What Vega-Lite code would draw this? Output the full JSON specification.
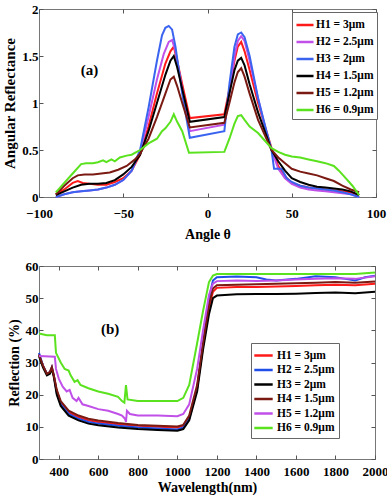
{
"$schema": "https://vega.github.io/schema/vega-lite/v6.json",
"background": "white",
"padding": {"left": 2, "top": 2, "right": 8, "bottom": 0},
"spacing": 17,
"config": {
  "font": "Liberation Serif",
  "view": {"stroke": "#777", "strokeWidth": 1},
  "axis": {"grid": false, "domain": false, "labelFont": "Liberation Serif", "labelFontWeight": "bold", "labelFontSize": 13, "labelColor": "black", "labelOverlap": false, "labelFlush": false, "titleFont": "Liberation Serif", "titleFontWeight": "bold", "titleFontSize": 14, "titleColor": "black", "tickColor": "#555", "tickSize": -4, "labelPadding": 5},
  "legend": {"orient": "none", "title": null, "symbolStrokeWidth": 2.5, "labelFont": "Liberation Serif", "labelFontWeight": "bold", "labelColor": "black", "strokeColor": "#666", "fillColor": "white", "padding": 3}
},
"resolve": {"scale": {"color": "independent"}, "legend": {"color": "independent"}},
"datasets": {
 "top": [
  {"s":"H1 = 3μm","a":-90,"r":0.03},{"s":"H1 = 3μm","a":-85,"r":0.08},{"s":"H1 = 3μm","a":-80,"r":0.15},{"s":"H1 = 3μm","a":-77,"r":0.17},{"s":"H1 = 3μm","a":-74,"r":0.15},{"s":"H1 = 3μm","a":-70,"r":0.14},{"s":"H1 = 3μm","a":-65,"r":0.13},{"s":"H1 = 3μm","a":-60,"r":0.13},{"s":"H1 = 3μm","a":-55,"r":0.16},{"s":"H1 = 3μm","a":-50,"r":0.2},{"s":"H1 = 3μm","a":-45,"r":0.28},{"s":"H1 = 3μm","a":-40,"r":0.45},{"s":"H1 = 3μm","a":-35,"r":0.75},{"s":"H1 = 3μm","a":-30,"r":1.1},{"s":"H1 = 3μm","a":-25,"r":1.42},{"s":"H1 = 3μm","a":-22,"r":1.55},{"s":"H1 = 3μm","a":-20,"r":1.6},{"s":"H1 = 3μm","a":-18,"r":1.45},{"s":"H1 = 3μm","a":-15,"r":1.2},{"s":"H1 = 3μm","a":-10.5,"r":0.84},{"s":"H1 = 3μm","a":10,"r":0.88},{"s":"H1 = 3μm","a":13,"r":1.15},{"s":"H1 = 3μm","a":16,"r":1.45},{"s":"H1 = 3μm","a":18,"r":1.6},{"s":"H1 = 3μm","a":20,"r":1.65},{"s":"H1 = 3μm","a":22,"r":1.55},{"s":"H1 = 3μm","a":25,"r":1.35},{"s":"H1 = 3μm","a":30,"r":1.0},{"s":"H1 = 3μm","a":35,"r":0.7},{"s":"H1 = 3μm","a":38,"r":0.52},{"s":"H1 = 3μm","a":42,"r":0.33},{"s":"H1 = 3μm","a":46,"r":0.22},{"s":"H1 = 3μm","a":50,"r":0.15},{"s":"H1 = 3μm","a":55,"r":0.12},{"s":"H1 = 3μm","a":60,"r":0.1},{"s":"H1 = 3μm","a":65,"r":0.09},{"s":"H1 = 3μm","a":70,"r":0.08},{"s":"H1 = 3μm","a":75,"r":0.07},{"s":"H1 = 3μm","a":80,"r":0.06},{"s":"H1 = 3μm","a":85,"r":0.05},{"s":"H1 = 3μm","a":90,"r":0.02},
  {"s":"H2 = 2.5μm","a":-90,"r":0.0},{"s":"H2 = 2.5μm","a":-85,"r":0.03},{"s":"H2 = 2.5μm","a":-80,"r":0.05},{"s":"H2 = 2.5μm","a":-75,"r":0.06},{"s":"H2 = 2.5μm","a":-70,"r":0.07},{"s":"H2 = 2.5μm","a":-65,"r":0.08},{"s":"H2 = 2.5μm","a":-60,"r":0.1},{"s":"H2 = 2.5μm","a":-55,"r":0.13},{"s":"H2 = 2.5μm","a":-50,"r":0.18},{"s":"H2 = 2.5μm","a":-45,"r":0.28},{"s":"H2 = 2.5μm","a":-40,"r":0.48},{"s":"H2 = 2.5μm","a":-35,"r":0.85},{"s":"H2 = 2.5μm","a":-30,"r":1.25},{"s":"H2 = 2.5μm","a":-26,"r":1.52},{"s":"H2 = 2.5μm","a":-23,"r":1.65},{"s":"H2 = 2.5μm","a":-21,"r":1.67},{"s":"H2 = 2.5μm","a":-19,"r":1.55},{"s":"H2 = 2.5μm","a":-15,"r":1.15},{"s":"H2 = 2.5μm","a":-10.5,"r":0.7},{"s":"H2 = 2.5μm","a":10,"r":0.77},{"s":"H2 = 2.5μm","a":13,"r":1.1},{"s":"H2 = 2.5μm","a":16,"r":1.5},{"s":"H2 = 2.5μm","a":18,"r":1.66},{"s":"H2 = 2.5μm","a":20,"r":1.71},{"s":"H2 = 2.5μm","a":22,"r":1.66},{"s":"H2 = 2.5μm","a":25,"r":1.45},{"s":"H2 = 2.5μm","a":30,"r":1.05},{"s":"H2 = 2.5μm","a":35,"r":0.68},{"s":"H2 = 2.5μm","a":38,"r":0.5},{"s":"H2 = 2.5μm","a":42,"r":0.3},{"s":"H2 = 2.5μm","a":46,"r":0.2},{"s":"H2 = 2.5μm","a":50,"r":0.14},{"s":"H2 = 2.5μm","a":55,"r":0.1},{"s":"H2 = 2.5μm","a":60,"r":0.08},{"s":"H2 = 2.5μm","a":65,"r":0.07},{"s":"H2 = 2.5μm","a":70,"r":0.06},{"s":"H2 = 2.5μm","a":75,"r":0.05},{"s":"H2 = 2.5μm","a":80,"r":0.04},{"s":"H2 = 2.5μm","a":85,"r":0.03},{"s":"H2 = 2.5μm","a":90,"r":0.0},
  {"s":"H3 = 2μm","a":-90,"r":0.0},{"s":"H3 = 2μm","a":-85,"r":0.03},{"s":"H3 = 2μm","a":-80,"r":0.05},{"s":"H3 = 2μm","a":-75,"r":0.06},{"s":"H3 = 2μm","a":-70,"r":0.07},{"s":"H3 = 2μm","a":-65,"r":0.08},{"s":"H3 = 2μm","a":-60,"r":0.1},{"s":"H3 = 2μm","a":-55,"r":0.13},{"s":"H3 = 2μm","a":-50,"r":0.18},{"s":"H3 = 2μm","a":-45,"r":0.28},{"s":"H3 = 2μm","a":-40,"r":0.5},{"s":"H3 = 2μm","a":-35,"r":0.95},{"s":"H3 = 2μm","a":-30,"r":1.45},{"s":"H3 = 2μm","a":-27,"r":1.72},{"s":"H3 = 2μm","a":-25,"r":1.8},{"s":"H3 = 2μm","a":-23,"r":1.82},{"s":"H3 = 2μm","a":-21,"r":1.78},{"s":"H3 = 2μm","a":-19,"r":1.6},{"s":"H3 = 2μm","a":-15,"r":1.1},{"s":"H3 = 2μm","a":-10.5,"r":0.63},{"s":"H3 = 2μm","a":10,"r":0.7},{"s":"H3 = 2μm","a":13,"r":1.2},{"s":"H3 = 2μm","a":16,"r":1.6},{"s":"H3 = 2μm","a":18,"r":1.73},{"s":"H3 = 2μm","a":20,"r":1.75},{"s":"H3 = 2μm","a":22,"r":1.7},{"s":"H3 = 2μm","a":25,"r":1.5},{"s":"H3 = 2μm","a":30,"r":1.05},{"s":"H3 = 2μm","a":35,"r":0.7},{"s":"H3 = 2μm","a":38,"r":0.5},{"s":"H3 = 2μm","a":39.5,"r":0.3},{"s":"H3 = 2μm","a":44,"r":0.3},{"s":"H3 = 2μm","a":47,"r":0.2},{"s":"H3 = 2μm","a":50,"r":0.16},{"s":"H3 = 2μm","a":55,"r":0.12},{"s":"H3 = 2μm","a":60,"r":0.1},{"s":"H3 = 2μm","a":65,"r":0.09},{"s":"H3 = 2μm","a":70,"r":0.08},{"s":"H3 = 2μm","a":75,"r":0.07},{"s":"H3 = 2μm","a":80,"r":0.05},{"s":"H3 = 2μm","a":85,"r":0.03},{"s":"H3 = 2μm","a":90,"r":0.0},
  {"s":"H4 = 1.5μm","a":-90,"r":0.02},{"s":"H4 = 1.5μm","a":-85,"r":0.06},{"s":"H4 = 1.5μm","a":-80,"r":0.1},{"s":"H4 = 1.5μm","a":-75,"r":0.13},{"s":"H4 = 1.5μm","a":-70,"r":0.14},{"s":"H4 = 1.5μm","a":-65,"r":0.14},{"s":"H4 = 1.5μm","a":-60,"r":0.15},{"s":"H4 = 1.5μm","a":-55,"r":0.18},{"s":"H4 = 1.5μm","a":-50,"r":0.24},{"s":"H4 = 1.5μm","a":-45,"r":0.32},{"s":"H4 = 1.5μm","a":-40,"r":0.45},{"s":"H4 = 1.5μm","a":-35,"r":0.7},{"s":"H4 = 1.5μm","a":-30,"r":1.0},{"s":"H4 = 1.5μm","a":-25,"r":1.3},{"s":"H4 = 1.5μm","a":-22,"r":1.45},{"s":"H4 = 1.5μm","a":-20,"r":1.5},{"s":"H4 = 1.5μm","a":-18,"r":1.38},{"s":"H4 = 1.5μm","a":-15,"r":1.15},{"s":"H4 = 1.5μm","a":-10.5,"r":0.8},{"s":"H4 = 1.5μm","a":10,"r":0.85},{"s":"H4 = 1.5μm","a":13,"r":1.1},{"s":"H4 = 1.5μm","a":16,"r":1.35},{"s":"H4 = 1.5μm","a":18,"r":1.45},{"s":"H4 = 1.5μm","a":20,"r":1.48},{"s":"H4 = 1.5μm","a":22,"r":1.4},{"s":"H4 = 1.5μm","a":25,"r":1.2},{"s":"H4 = 1.5μm","a":30,"r":0.9},{"s":"H4 = 1.5μm","a":35,"r":0.65},{"s":"H4 = 1.5μm","a":38,"r":0.5},{"s":"H4 = 1.5μm","a":42,"r":0.38},{"s":"H4 = 1.5μm","a":46,"r":0.28},{"s":"H4 = 1.5μm","a":50,"r":0.2},{"s":"H4 = 1.5μm","a":55,"r":0.16},{"s":"H4 = 1.5μm","a":60,"r":0.13},{"s":"H4 = 1.5μm","a":65,"r":0.11},{"s":"H4 = 1.5μm","a":70,"r":0.1},{"s":"H4 = 1.5μm","a":75,"r":0.09},{"s":"H4 = 1.5μm","a":80,"r":0.08},{"s":"H4 = 1.5μm","a":85,"r":0.06},{"s":"H4 = 1.5μm","a":90,"r":0.02},
  {"s":"H5 = 1.2μm","a":-90,"r":0.03},{"s":"H5 = 1.2μm","a":-85,"r":0.12},{"s":"H5 = 1.2μm","a":-80,"r":0.2},{"s":"H5 = 1.2μm","a":-77,"r":0.23},{"s":"H5 = 1.2μm","a":-73,"r":0.24},{"s":"H5 = 1.2μm","a":-68,"r":0.24},{"s":"H5 = 1.2μm","a":-63,"r":0.25},{"s":"H5 = 1.2μm","a":-58,"r":0.26},{"s":"H5 = 1.2μm","a":-53,"r":0.29},{"s":"H5 = 1.2μm","a":-48,"r":0.33},{"s":"H5 = 1.2μm","a":-43,"r":0.4},{"s":"H5 = 1.2μm","a":-40,"r":0.46},{"s":"H5 = 1.2μm","a":-35,"r":0.62},{"s":"H5 = 1.2μm","a":-30,"r":0.85},{"s":"H5 = 1.2μm","a":-25,"r":1.1},{"s":"H5 = 1.2μm","a":-22,"r":1.25},{"s":"H5 = 1.2μm","a":-20,"r":1.28},{"s":"H5 = 1.2μm","a":-18,"r":1.18},{"s":"H5 = 1.2μm","a":-15,"r":1.0},{"s":"H5 = 1.2μm","a":-10.5,"r":0.74},{"s":"H5 = 1.2μm","a":10,"r":0.79},{"s":"H5 = 1.2μm","a":13,"r":1.0},{"s":"H5 = 1.2μm","a":16,"r":1.22},{"s":"H5 = 1.2μm","a":18,"r":1.33},{"s":"H5 = 1.2μm","a":20,"r":1.37},{"s":"H5 = 1.2μm","a":22,"r":1.28},{"s":"H5 = 1.2μm","a":25,"r":1.1},{"s":"H5 = 1.2μm","a":30,"r":0.82},{"s":"H5 = 1.2μm","a":35,"r":0.62},{"s":"H5 = 1.2μm","a":38,"r":0.5},{"s":"H5 = 1.2μm","a":42,"r":0.42},{"s":"H5 = 1.2μm","a":46,"r":0.36},{"s":"H5 = 1.2μm","a":50,"r":0.3},{"s":"H5 = 1.2μm","a":55,"r":0.27},{"s":"H5 = 1.2μm","a":60,"r":0.25},{"s":"H5 = 1.2μm","a":65,"r":0.23},{"s":"H5 = 1.2μm","a":70,"r":0.2},{"s":"H5 = 1.2μm","a":75,"r":0.17},{"s":"H5 = 1.2μm","a":80,"r":0.12},{"s":"H5 = 1.2μm","a":85,"r":0.08},{"s":"H5 = 1.2μm","a":90,"r":0.05},
  {"s":"H6 = 0.9μm","a":-90,"r":0.05},{"s":"H6 = 0.9μm","a":-85,"r":0.15},{"s":"H6 = 0.9μm","a":-80,"r":0.25},{"s":"H6 = 0.9μm","a":-75,"r":0.35},{"s":"H6 = 0.9μm","a":-72,"r":0.36},{"s":"H6 = 0.9μm","a":-68,"r":0.36},{"s":"H6 = 0.9μm","a":-65,"r":0.37},{"s":"H6 = 0.9μm","a":-62,"r":0.39},{"s":"H6 = 0.9μm","a":-60,"r":0.37},{"s":"H6 = 0.9μm","a":-57,"r":0.4},{"s":"H6 = 0.9μm","a":-55,"r":0.38},{"s":"H6 = 0.9μm","a":-52,"r":0.42},{"s":"H6 = 0.9μm","a":-48,"r":0.44},{"s":"H6 = 0.9μm","a":-45,"r":0.45},{"s":"H6 = 0.9μm","a":-42,"r":0.48},{"s":"H6 = 0.9μm","a":-40,"r":0.5},{"s":"H6 = 0.9μm","a":-35,"r":0.57},{"s":"H6 = 0.9μm","a":-30,"r":0.62},{"s":"H6 = 0.9μm","a":-27,"r":0.7},{"s":"H6 = 0.9μm","a":-25,"r":0.73},{"s":"H6 = 0.9μm","a":-22,"r":0.8},{"s":"H6 = 0.9μm","a":-20,"r":0.88},{"s":"H6 = 0.9μm","a":-18,"r":0.8},{"s":"H6 = 0.9μm","a":-15,"r":0.7},{"s":"H6 = 0.9μm","a":-11,"r":0.47},{"s":"H6 = 0.9μm","a":10,"r":0.48},{"s":"H6 = 0.9μm","a":13,"r":0.62},{"s":"H6 = 0.9μm","a":16,"r":0.78},{"s":"H6 = 0.9μm","a":18,"r":0.86},{"s":"H6 = 0.9μm","a":20,"r":0.87},{"s":"H6 = 0.9μm","a":22,"r":0.82},{"s":"H6 = 0.9μm","a":25,"r":0.75},{"s":"H6 = 0.9μm","a":30,"r":0.68},{"s":"H6 = 0.9μm","a":33,"r":0.62},{"s":"H6 = 0.9μm","a":38,"r":0.52},{"s":"H6 = 0.9μm","a":42,"r":0.48},{"s":"H6 = 0.9μm","a":46,"r":0.45},{"s":"H6 = 0.9μm","a":50,"r":0.43},{"s":"H6 = 0.9μm","a":55,"r":0.42},{"s":"H6 = 0.9μm","a":60,"r":0.4},{"s":"H6 = 0.9μm","a":65,"r":0.38},{"s":"H6 = 0.9μm","a":70,"r":0.36},{"s":"H6 = 0.9μm","a":75,"r":0.33},{"s":"H6 = 0.9μm","a":78,"r":0.28},{"s":"H6 = 0.9μm","a":82,"r":0.2},{"s":"H6 = 0.9μm","a":86,"r":0.12},{"s":"H6 = 0.9μm","a":90,"r":0.02}
 ],
 "bottom": [
  {"s":"H1 = 3μm","w":300,"r":32.5},{"s":"H1 = 3μm","w":320,"r":29},{"s":"H1 = 3μm","w":340,"r":26.5},{"s":"H1 = 3μm","w":355,"r":27},{"s":"H1 = 3μm","w":365,"r":28.5},{"s":"H1 = 3μm","w":375,"r":26},{"s":"H1 = 3μm","w":390,"r":21},{"s":"H1 = 3μm","w":410,"r":17.5},{"s":"H1 = 3μm","w":450,"r":14.5},{"s":"H1 = 3μm","w":500,"r":13},{"s":"H1 = 3μm","w":550,"r":12},{"s":"H1 = 3μm","w":600,"r":11.5},{"s":"H1 = 3μm","w":700,"r":10.8},{"s":"H1 = 3μm","w":800,"r":10.3},{"s":"H1 = 3μm","w":900,"r":10},{"s":"H1 = 3μm","w":1000,"r":9.8},{"s":"H1 = 3μm","w":1030,"r":10.3},{"s":"H1 = 3μm","w":1060,"r":13},{"s":"H1 = 3μm","w":1100,"r":22},{"s":"H1 = 3μm","w":1130,"r":35},{"s":"H1 = 3μm","w":1160,"r":47},{"s":"H1 = 3μm","w":1180,"r":52},{"s":"H1 = 3μm","w":1200,"r":53.2},{"s":"H1 = 3μm","w":1300,"r":53.5},{"s":"H1 = 3μm","w":1400,"r":53.5},{"s":"H1 = 3μm","w":1500,"r":53.6},{"s":"H1 = 3μm","w":1600,"r":53.8},{"s":"H1 = 3μm","w":1700,"r":54},{"s":"H1 = 3μm","w":1800,"r":54.2},{"s":"H1 = 3μm","w":1900,"r":54},{"s":"H1 = 3μm","w":2000,"r":54.5},
  {"s":"H2 = 2.5μm","w":300,"r":33},{"s":"H2 = 2.5μm","w":320,"r":29},{"s":"H2 = 2.5μm","w":340,"r":26.5},{"s":"H2 = 2.5μm","w":355,"r":27},{"s":"H2 = 2.5μm","w":365,"r":28.5},{"s":"H2 = 2.5μm","w":375,"r":26},{"s":"H2 = 2.5μm","w":390,"r":20.5},{"s":"H2 = 2.5μm","w":410,"r":17},{"s":"H2 = 2.5μm","w":450,"r":14},{"s":"H2 = 2.5μm","w":500,"r":12.5},{"s":"H2 = 2.5μm","w":550,"r":11.5},{"s":"H2 = 2.5μm","w":600,"r":11},{"s":"H2 = 2.5μm","w":700,"r":10.3},{"s":"H2 = 2.5μm","w":800,"r":9.8},{"s":"H2 = 2.5μm","w":900,"r":9.5},{"s":"H2 = 2.5μm","w":1000,"r":9.2},{"s":"H2 = 2.5μm","w":1030,"r":9.8},{"s":"H2 = 2.5μm","w":1060,"r":12.5},{"s":"H2 = 2.5μm","w":1100,"r":22},{"s":"H2 = 2.5μm","w":1130,"r":36},{"s":"H2 = 2.5μm","w":1160,"r":50},{"s":"H2 = 2.5μm","w":1180,"r":55.5},{"s":"H2 = 2.5μm","w":1200,"r":56.5},{"s":"H2 = 2.5μm","w":1300,"r":56.7},{"s":"H2 = 2.5μm","w":1400,"r":56.5},{"s":"H2 = 2.5μm","w":1450,"r":55.8},{"s":"H2 = 2.5μm","w":1500,"r":55.5},{"s":"H2 = 2.5μm","w":1600,"r":56},{"s":"H2 = 2.5μm","w":1700,"r":56.8},{"s":"H2 = 2.5μm","w":1800,"r":56.5},{"s":"H2 = 2.5μm","w":1850,"r":56},{"s":"H2 = 2.5μm","w":1900,"r":55.5},{"s":"H2 = 2.5μm","w":1950,"r":56.5},{"s":"H2 = 2.5μm","w":2000,"r":57},
  {"s":"H3 = 2μm","w":300,"r":32},{"s":"H3 = 2μm","w":320,"r":28.5},{"s":"H3 = 2μm","w":340,"r":26},{"s":"H3 = 2μm","w":355,"r":26.5},{"s":"H3 = 2μm","w":365,"r":28},{"s":"H3 = 2μm","w":375,"r":25.5},{"s":"H3 = 2μm","w":390,"r":20},{"s":"H3 = 2μm","w":410,"r":16.5},{"s":"H3 = 2μm","w":450,"r":13.5},{"s":"H3 = 2μm","w":500,"r":12},{"s":"H3 = 2μm","w":550,"r":11},{"s":"H3 = 2μm","w":600,"r":10.5},{"s":"H3 = 2μm","w":700,"r":9.8},{"s":"H3 = 2μm","w":800,"r":9.3},{"s":"H3 = 2μm","w":900,"r":9},{"s":"H3 = 2μm","w":1000,"r":8.8},{"s":"H3 = 2μm","w":1030,"r":9.3},{"s":"H3 = 2μm","w":1060,"r":12},{"s":"H3 = 2μm","w":1100,"r":21},{"s":"H3 = 2μm","w":1130,"r":34},{"s":"H3 = 2μm","w":1160,"r":45},{"s":"H3 = 2μm","w":1180,"r":50},{"s":"H3 = 2μm","w":1200,"r":50.8},{"s":"H3 = 2μm","w":1300,"r":51.2},{"s":"H3 = 2μm","w":1400,"r":51.3},{"s":"H3 = 2μm","w":1500,"r":51.3},{"s":"H3 = 2μm","w":1600,"r":51.4},{"s":"H3 = 2μm","w":1700,"r":51.6},{"s":"H3 = 2μm","w":1800,"r":51.8},{"s":"H3 = 2μm","w":1900,"r":51.5},{"s":"H3 = 2μm","w":2000,"r":52},
  {"s":"H4 = 1.5μm","w":300,"r":32.5},{"s":"H4 = 1.5μm","w":320,"r":29},{"s":"H4 = 1.5μm","w":340,"r":26.5},{"s":"H4 = 1.5μm","w":355,"r":27},{"s":"H4 = 1.5μm","w":365,"r":28.5},{"s":"H4 = 1.5μm","w":375,"r":26},{"s":"H4 = 1.5μm","w":390,"r":21.5},{"s":"H4 = 1.5μm","w":410,"r":18},{"s":"H4 = 1.5μm","w":450,"r":15},{"s":"H4 = 1.5μm","w":500,"r":13.5},{"s":"H4 = 1.5μm","w":550,"r":12.5},{"s":"H4 = 1.5μm","w":600,"r":12},{"s":"H4 = 1.5μm","w":700,"r":11.2},{"s":"H4 = 1.5μm","w":800,"r":10.6},{"s":"H4 = 1.5μm","w":900,"r":10.3},{"s":"H4 = 1.5μm","w":1000,"r":10.1},{"s":"H4 = 1.5μm","w":1030,"r":10.6},{"s":"H4 = 1.5μm","w":1060,"r":13.5},{"s":"H4 = 1.5μm","w":1100,"r":23},{"s":"H4 = 1.5μm","w":1130,"r":36},{"s":"H4 = 1.5μm","w":1160,"r":48},{"s":"H4 = 1.5μm","w":1180,"r":53},{"s":"H4 = 1.5μm","w":1200,"r":54},{"s":"H4 = 1.5μm","w":1300,"r":54.2},{"s":"H4 = 1.5μm","w":1400,"r":54.3},{"s":"H4 = 1.5μm","w":1500,"r":54.5},{"s":"H4 = 1.5μm","w":1600,"r":54.6},{"s":"H4 = 1.5μm","w":1700,"r":54.8},{"s":"H4 = 1.5μm","w":1800,"r":55},{"s":"H4 = 1.5μm","w":1900,"r":54.8},{"s":"H4 = 1.5μm","w":2000,"r":55.2},
  {"s":"H5 = 1.2μm","w":300,"r":32},{"s":"H5 = 1.2μm","w":380,"r":31.8},{"s":"H5 = 1.2μm","w":386,"r":28},{"s":"H5 = 1.2μm","w":400,"r":25},{"s":"H5 = 1.2μm","w":420,"r":22.5},{"s":"H5 = 1.2μm","w":440,"r":21},{"s":"H5 = 1.2μm","w":455,"r":21.5},{"s":"H5 = 1.2μm","w":470,"r":19},{"s":"H5 = 1.2μm","w":490,"r":18},{"s":"H5 = 1.2μm","w":500,"r":19},{"s":"H5 = 1.2μm","w":520,"r":17},{"s":"H5 = 1.2μm","w":550,"r":16.5},{"s":"H5 = 1.2μm","w":600,"r":15.5},{"s":"H5 = 1.2μm","w":650,"r":15},{"s":"H5 = 1.2μm","w":700,"r":14},{"s":"H5 = 1.2μm","w":720,"r":13.5},{"s":"H5 = 1.2μm","w":735,"r":12.5},{"s":"H5 = 1.2μm","w":740,"r":11.5},{"s":"H5 = 1.2μm","w":745,"r":15},{"s":"H5 = 1.2μm","w":760,"r":14},{"s":"H5 = 1.2μm","w":800,"r":13.5},{"s":"H5 = 1.2μm","w":900,"r":13.5},{"s":"H5 = 1.2μm","w":1000,"r":13.3},{"s":"H5 = 1.2μm","w":1030,"r":14},{"s":"H5 = 1.2μm","w":1060,"r":17},{"s":"H5 = 1.2μm","w":1100,"r":28},{"s":"H5 = 1.2μm","w":1130,"r":40},{"s":"H5 = 1.2μm","w":1160,"r":51},{"s":"H5 = 1.2μm","w":1180,"r":54.5},{"s":"H5 = 1.2μm","w":1200,"r":55.3},{"s":"H5 = 1.2μm","w":1300,"r":55.5},{"s":"H5 = 1.2μm","w":1400,"r":55.3},{"s":"H5 = 1.2μm","w":1500,"r":55.5},{"s":"H5 = 1.2μm","w":1600,"r":55.8},{"s":"H5 = 1.2μm","w":1700,"r":56},{"s":"H5 = 1.2μm","w":1800,"r":56.2},{"s":"H5 = 1.2μm","w":1900,"r":56},{"s":"H5 = 1.2μm","w":2000,"r":56.8},
  {"s":"H6 = 0.9μm","w":300,"r":39},{"s":"H6 = 0.9μm","w":340,"r":38.5},{"s":"H6 = 0.9μm","w":380,"r":38.5},{"s":"H6 = 0.9μm","w":386,"r":33},{"s":"H6 = 0.9μm","w":410,"r":30},{"s":"H6 = 0.9μm","w":430,"r":28},{"s":"H6 = 0.9μm","w":450,"r":27.5},{"s":"H6 = 0.9μm","w":460,"r":26},{"s":"H6 = 0.9μm","w":480,"r":24},{"s":"H6 = 0.9μm","w":495,"r":24.5},{"s":"H6 = 0.9μm","w":510,"r":23},{"s":"H6 = 0.9μm","w":550,"r":22},{"s":"H6 = 0.9μm","w":600,"r":21},{"s":"H6 = 0.9μm","w":650,"r":20.3},{"s":"H6 = 0.9μm","w":700,"r":19.3},{"s":"H6 = 0.9μm","w":720,"r":18},{"s":"H6 = 0.9μm","w":732,"r":17.5},{"s":"H6 = 0.9μm","w":740,"r":23},{"s":"H6 = 0.9μm","w":748,"r":18.5},{"s":"H6 = 0.9μm","w":800,"r":18},{"s":"H6 = 0.9μm","w":900,"r":18},{"s":"H6 = 0.9μm","w":1000,"r":18},{"s":"H6 = 0.9μm","w":1030,"r":19},{"s":"H6 = 0.9μm","w":1060,"r":23},{"s":"H6 = 0.9μm","w":1100,"r":36},{"s":"H6 = 0.9μm","w":1130,"r":46},{"s":"H6 = 0.9μm","w":1160,"r":55},{"s":"H6 = 0.9μm","w":1180,"r":57},{"s":"H6 = 0.9μm","w":1200,"r":57.5},{"s":"H6 = 0.9μm","w":1400,"r":57.5},{"s":"H6 = 0.9μm","w":1600,"r":57.5},{"s":"H6 = 0.9μm","w":1800,"r":57.5},{"s":"H6 = 0.9μm","w":1900,"r":57.5},{"s":"H6 = 0.9μm","w":2000,"r":58}
 ]
},
"vconcat": [
 {
  "width": 337, "height": 188,
  "resolve": {"axis": {"x": "independent", "y": "independent"}},
  "layer": [
   {
    "data": {"name": "top"},
    "mark": {"type": "line", "strokeWidth": 2},
    "encoding": {
      "x": {"field": "a", "type": "quantitative", "title": "Angle θ", "scale": {"domain": [-100, 100], "nice": false}, "axis": {"values": [-100, -50, 0, 50, 100], "labelPadding": 14, "titlePadding": 7}},
      "y": {"field": "r", "type": "quantitative", "title": "Angular Reflectance", "scale": {"domain": [0, 2], "nice": false}, "axis": {"values": [0, 0.5, 1, 1.5, 2], "format": "~g", "titleFontSize": 15, "titlePadding": 4}},
      "color": {"field": "s", "type": "nominal", "scale": {"domain": ["H1 = 3μm","H2 = 2.5μm","H3 = 2μm","H4 = 1.5μm","H5 = 1.2μm","H6 = 0.9μm"], "range": ["#ff1a1a", "#c050e8", "#3a64f0", "#000000", "#7a1a12", "#5ae21e"]}, "legend": {"legendX": 253, "legendY": 3, "labelFontSize": 11.5, "rowPadding": 1, "symbolType": "stroke", "symbolSize": 290, "labelOffset": 1}}
    }
   },
   {
    "data": {"values": [{"a": -70, "r": 1.35, "t": "(a)"}]},
    "mark": {"type": "text", "font": "Liberation Serif", "fontWeight": "bold", "fontSize": 15, "color": "black"},
    "encoding": {
      "x": {"field": "a", "type": "quantitative", "axis": {"orient": "top", "values": [-100, -50, 0, 50, 100], "labels": false, "title": null}},
      "y": {"field": "r", "type": "quantitative", "axis": {"orient": "right", "values": [0, 0.5, 1, 1.5, 2], "labels": false, "title": null}},
      "text": {"field": "t"}}
   }
  ]
 },
 {
  "width": 336, "height": 193,
  "resolve": {"axis": {"x": "independent", "y": "independent"}},
  "layer": [
   {
    "data": {"name": "bottom"},
    "mark": {"type": "line", "strokeWidth": 2},
    "encoding": {
      "x": {"field": "w", "type": "quantitative", "title": "Wavelength(nm)", "scale": {"domain": [300, 2000], "nice": false}, "axis": {"values": [400, 600, 800, 1000, 1200, 1400, 1600, 1800, 2000], "format": "d", "labelPadding": 10, "titlePadding": 2}},
      "y": {"field": "r", "type": "quantitative", "title": "Reflection (%)", "scale": {"domain": [0, 60], "nice": false}, "axis": {"values": [0, 10, 20, 30, 40, 50, 60], "titlePadding": 4}},
      "color": {"field": "s", "type": "nominal", "scale": {"domain": ["H1 = 3μm","H2 = 2.5μm","H3 = 2μm","H4 = 1.5μm","H5 = 1.2μm","H6 = 0.9μm"], "range": ["#ff1a1a", "#1f4fe8", "#000000", "#7a1a12", "#c050e8", "#5ae21e"]}, "legend": {"legendX": 212, "legendY": 77, "labelFontSize": 11.5, "rowPadding": 0.5, "symbolType": "M-1.3,0H1.3", "symbolSize": 200, "labelOffset": 5, "padding": 4}}
    }
   },
   {
    "data": {"values": [{"w": 660, "r": 40.5, "t": "(b)"}]},
    "mark": {"type": "text", "font": "Liberation Serif", "fontWeight": "bold", "fontSize": 15, "color": "black"},
    "encoding": {
      "x": {"field": "w", "type": "quantitative", "axis": {"orient": "top", "values": [400, 600, 800, 1000, 1200, 1400, 1600, 1800, 2000], "labels": false, "title": null}},
      "y": {"field": "r", "type": "quantitative", "axis": {"orient": "right", "values": [0, 10, 20, 30, 40, 50, 60], "labels": false, "title": null}},
      "text": {"field": "t"}}
   }
  ]
 }
]
}
